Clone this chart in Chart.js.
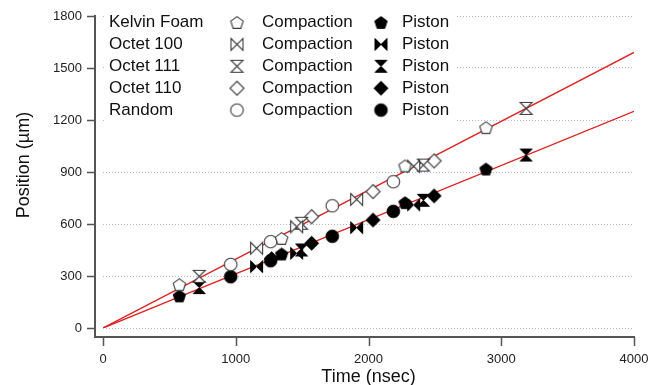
<!DOCTYPE html>
<html>
<head>
<meta charset="utf-8">
<script src="https://cdn.jsdelivr.net/npm/chart.js@4"></script>
<style>
  body { margin: 0; background: #fff; }
</style>
</head>
<body>
<canvas id="posChart" width="650" height="385"></canvas>
<script>
/* data: time in nsec, position in um */
const groups = ['Kelvin Foam', 'Octet 100', 'Octet 111', 'Octet 110', 'Random']

const kelvinTime = [575, 1346, 2275, 2885]
const kelvinCompaction = [250, 517, 935, 1156]
const kelvinPiston = [185, 427, 723, 917]

const octet100Time = [1157, 1459, 1911, 2340]
const octet100Compaction = [460, 584, 742, 933]
const octet100Piston = [354, 431, 579, 710]

const octet111Time = [725, 1496, 2413, 3187]
const octet111Compaction = [298, 604, 940, 1267]
const octet111Piston = [233, 450, 737, 998]

const octet110Time = [1270, 1572, 2034, 2494]
const octet110Compaction = [null, 642, 787, 964]
const octet110Piston = [400, 489, 623, 762]

const randomTime = [962, 1263, 1727, 2187]
const randomCompaction = [367, 498, 705, 844]
const randomPiston = [296, 388, 529, 673]

/* fitted lines through the origin */
const fitTime = [0, 4000]
const fitCompaction = [0, 1590]
const fitPiston = [0, 1250]

const xTicks = [0, 1000, 2000, 3000, 4000]
const yTicks = [0, 300, 600, 900, 1200, 1500, 1800]
const xTitle = 'Time (nsec)'
const yTitle = 'Position (µm)'

/* marker images, Chart.js has no pentagon / bowtie / hourglass */
function makeMarker(shape, filled){
  const c = document.createElement('canvas')
  c.width = 17; c.height = 17
  const g = c.getContext('2d')
  g.translate(8.5, 8.5)
  g.beginPath()
  if(shape == 'pentagon'){
    for(let i = 0; i < 5; i++){
      const a = -Math.PI/2 + i*2*Math.PI/5
      const px = 6.5*Math.cos(a), py = 6.5*Math.sin(a) + 0.6
      if(i == 0) g.moveTo(px, py); else g.lineTo(px, py)
    }
    g.closePath()
  } else if(shape == 'bowtie'){
    g.moveTo(-6, -6); g.lineTo(6, 6); g.lineTo(6, -6); g.lineTo(-6, 6); g.closePath()
  } else if(shape == 'hourglass'){
    g.moveTo(-6, -6); g.lineTo(6, -6); g.lineTo(-6, 6); g.lineTo(6, 6); g.closePath()
  } else if(shape == 'diamond'){
    g.moveTo(0, -7); g.lineTo(7, 0); g.lineTo(0, 7); g.lineTo(-7, 0); g.closePath()
  } else {
    g.arc(0, 0, 6.3, 0, Math.PI*2)
  }
  if(filled){
    g.fillStyle = '#000'; g.fill()
    g.strokeStyle = '#000'; g.lineWidth = 1; g.stroke()
  } else {
    g.fillStyle = '#fff'; g.fill()
    g.strokeStyle = '#3a3a3a'; g.lineWidth = 1.1; g.stroke()
  }
  return c
}

const shapes = ['pentagon', 'bowtie', 'hourglass', 'diamond', 'circle']
const openMarks = shapes.map(s => makeMarker(s, false))
const fullMarks = shapes.map(s => makeMarker(s, true))

function pts(xs, ys){
  let out = []
  for(let i = 0; i < xs.length; i++){
    if(ys[i] != null) out.push({x: xs[i], y: ys[i]})
  }
  return out
}

const times = [kelvinTime, octet100Time, octet111Time, octet110Time, randomTime]
const comps = [kelvinCompaction, octet100Compaction, octet111Compaction, octet110Compaction, randomCompaction]
const pistons = [kelvinPiston, octet100Piston, octet111Piston, octet110Piston, randomPiston]

let datasets = []
for(let k = 0; k < groups.length; k++){
  datasets.push({
    label: groups[k] + ' Compaction',
    data: pts(times[k], comps[k]),
    pointStyle: openMarks[k],
    pointRadius: 6,
    order: 1
  })
  datasets.push({
    label: groups[k] + ' Piston',
    data: pts(times[k], pistons[k]),
    pointStyle: fullMarks[k],
    pointRadius: 6,
    order: 1
  })
}
const fitColor = 'rgb(220, 35, 35)'
datasets.push({ label: 'fit compaction', data: pts(fitTime, fitCompaction), showLine: true,
  borderColor: fitColor, borderWidth: 1.4, pointRadius: 0, order: 2 })
datasets.push({ label: 'fit piston', data: pts(fitTime, fitPiston), showLine: true,
  borderColor: fitColor, borderWidth: 1.4, pointRadius: 0, order: 2 })

/* axis lines sit a little away from the plot area (offset axes) */
const offsetAxes = {
  id: 'offsetAxes',
  afterDraw(chart){
    const ctx = chart.ctx
    const xs = chart.scales.x, ys = chart.scales.y
    const axX = 95, axY = 337
    ctx.save()
    ctx.strokeStyle = '#555'
    ctx.lineWidth = 2
    ctx.beginPath()
    ctx.moveTo(axX, ys.getPixelForValue(1800) - 1)
    ctx.lineTo(axX, axY)
    ctx.lineTo(xs.getPixelForValue(4000) + 1, axY)
    ctx.stroke()
    ctx.lineWidth = 1.5
    ctx.beginPath()
    yTicks.forEach(v => {
      const py = Math.round(ys.getPixelForValue(v)) + 0.5
      ctx.moveTo(87, py); ctx.lineTo(axX, py)
    })
    xTicks.forEach(v => {
      const px = Math.round(xs.getPixelForValue(v)) + 0.5
      ctx.moveTo(px, axY); ctx.lineTo(px, axY + 9)
    })
    ctx.stroke()

    // axis titles
    const area = chart.chartArea
    ctx.fillStyle = '#111'
    ctx.font = '18px "Liberation Sans", Arial, sans-serif'
    ctx.textAlign = 'center'
    ctx.textBaseline = 'middle'
    ctx.fillText(xTitle, (area.left + area.right)/2, 377)
    ctx.translate(24, 165)
    ctx.rotate(-Math.PI/2)
    ctx.fillText(yTitle, 0, 0)
    ctx.restore()
  }
}

/* the key is a text block with a white box, drawn by hand */
const keyBox = {
  id: 'keyBox',
  afterDatasetsDraw(chart){
    const ctx = chart.ctx
    ctx.save()
    ctx.fillStyle = '#fff'
    ctx.fillRect(106, 4, 350, 121)
    ctx.font = '17px "Liberation Sans", Arial, sans-serif'
    ctx.fillStyle = '#111'
    ctx.textBaseline = 'middle'
    for(let k = 0; k < groups.length; k++){
      const ry = 22.5 + k*21.9
      ctx.fillText(groups[k], 109, ry)
      ctx.drawImage(openMarks[k], 237 - 8.5, ry - 8.5)
      ctx.fillText('Compaction', 262, ry)
      ctx.drawImage(fullMarks[k], 381 - 8.5, ry - 8.5)
      ctx.fillText('Piston', 402, ry)
    }
    ctx.restore()
  }
}

const tickFont = { family: '"Liberation Sans", Arial, sans-serif', size: 13 }

const config = {
  type: 'scatter',
  data: { datasets: datasets },
  options: {
    responsive: false,
    animation: false,
    layout: { padding: { left: 0, right: 16, top: 16, bottom: 0 } },
    plugins: { legend: { display: false }, tooltip: { enabled: false } },
    scales: {
      x: {
        type: 'linear', min: 0, max: 4000,
        afterFit: (s) => { s.height = 57; s.paddingLeft = 0; s.paddingRight = 0 },
        afterBuildTicks: (s) => { s.ticks = xTicks.map(v => ({ value: v })) },
        grid: { display: false },
        border: { display: false },
        ticks: { padding: 16, color: '#222', font: tickFont, maxRotation: 0,
          callback: (v) => String(v) }
      },
      y: {
        type: 'linear', min: 0, max: 1800,
        afterFit: (s) => { s.width = 103; s.paddingTop = 0; s.paddingBottom = 0 },
        afterBuildTicks: (s) => { s.ticks = yTicks.map(v => ({ value: v })) },
        grid: { color: '#b4b6e2', lineWidth: 1, drawTicks: false },
        border: { display: false, dash: [1, 2] },
        ticks: { padding: 21, color: '#222', font: tickFont,
          callback: (v) => String(v) }
      }
    }
  },
  plugins: [keyBox, offsetAxes]
}

const myChart = new Chart(document.getElementById('posChart'), config)
</script>
</body>
</html>
